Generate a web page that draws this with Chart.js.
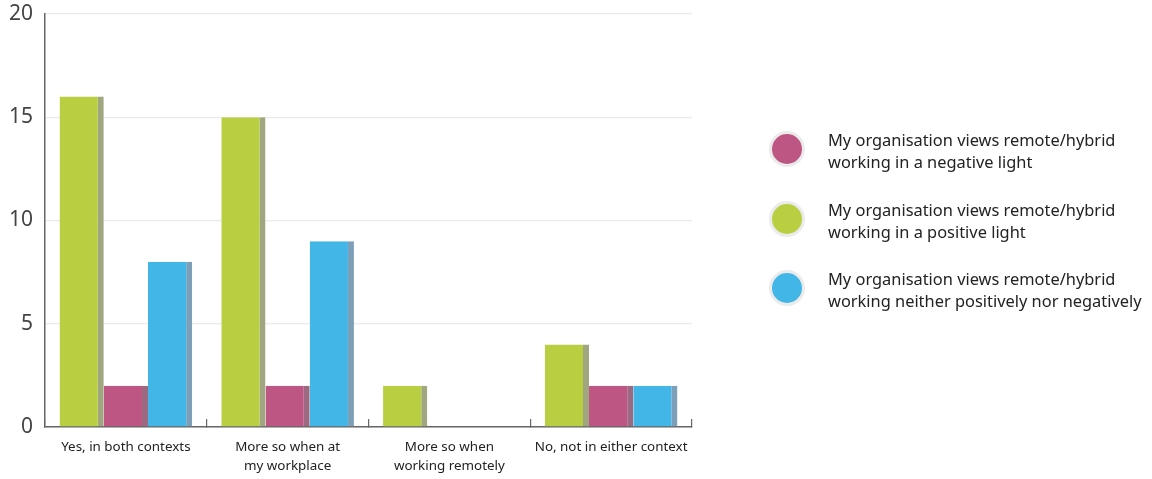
<!DOCTYPE html>
<html>
<head>
<meta charset="utf-8">
<script src="https://cdn.jsdelivr.net/npm/chart.js@4/dist/chart.umd.min.js"></script>
<style>
  html, body { margin: 0; padding: 0; background: #fff; }
  #wrap { position: relative; width: 1152px; height: 479px; }
  #legend { position: absolute; left: 769px; top: 0; font-family: "Noto Sans", sans-serif; font-size: 16.4px; color: #222; }
  .item { position: absolute; left: 0; width: 380px; }
  .dot { position: absolute; left: 0; width: 30px; height: 30px; border-radius: 50%; border: 3px solid #ebebeb; }
  .txt { position: absolute; left: 59px; line-height: 21.5px; white-space: nowrap; }
</style>
</head>
<body>
<div id="wrap">
  <canvas id="c"></canvas>
  <div id="legend"></div>
</div>
<script>
const categories = [["Yes, in both contexts"], ["More so when at", "my workplace"], ["More so when", "working remotely"], ["No, not in either context"]];
const positive = [16, 15, 2, 4];
const negative = [2, 2, 0, 2];
const neither = [8, 9, 0, 2];
const yTicks = [0, 5, 10, 15, 20];
const seriesNames = {
  negative: ["My organisation views remote/hybrid", "working in a negative light"],
  positive: ["My organisation views remote/hybrid", "working in a positive light"],
  neither: ["My organisation views remote/hybrid", "working neither positively nor negatively"]
};
const colors = { positive: "#b9cf41", negative: "#bd5682", neither: "#42b6e7" };
const shades = { positive: "#a0a67f", negative: "#9c6a80", neither: "#7d9fb8" };

function ds(key, data) {
  return {
    label: seriesNames[key].join(" "),
    data: data,
    backgroundColor: colors[key],
    borderColor: shades[key],
    borderWidth: { top: 0, left: 0, bottom: 0, right: 6 },
    borderSkipped: false,
    barPercentage: 1.0,
    categoryPercentage: 0.82
  };
}

new Chart(document.getElementById("c"), {
  type: "bar",
  data: {
    labels: categories,
    datasets: [ds("positive", positive), ds("negative", negative), ds("neither", neither)]
  },
  options: {
    responsive: true,
    maintainAspectRatio: false,
    animation: false,
    layout: { padding: { left: 0, right: 460, top: 14, bottom: 0 } },
    plugins: { legend: { display: false }, tooltip: { enabled: false } },
    scales: {
      y: {
        min: 0, max: 20,
        afterBuildTicks: (s) => { s.ticks = yTicks.map(v => ({ value: v })); },
        afterFit: (s) => { s.width = 45; s.paddingTop = 0; s.paddingBottom = 0; },
        border: { display: true, color: "#666", width: 1.5 },
        grid: { color: "#ebebeb", lineWidth: 1.2, drawTicks: false },
        ticks: { padding: 12, color: "#444", font: { family: "Noto Sans", size: 21 } }
      },
      x: {
        afterFit: (s) => { s.height = 52; },
        border: { display: true, color: "#666", width: 1.5 },
        grid: { offset: true, drawOnChartArea: false, drawTicks: true, tickLength: -8, color: "#666", lineWidth: 1.2 },
        ticks: { padding: 19, color: "#222", maxRotation: 0, font: { family: "Noto Sans", size: 13.4, lineHeight: 1.42 } }
      }
    }
  }
});

const legendOrder = ["negative", "positive", "neither"];
const legendY = [149, 219, 288];
const lg = document.getElementById("legend");
legendOrder.forEach((k, i) => {
  const it = document.createElement("div");
  it.className = "item";
  it.style.top = (legendY[i]) + "px";
  const d = document.createElement("div");
  d.className = "dot";
  d.style.background = colors[k];
  d.style.top = "-18px";
  const t = document.createElement("div");
  t.className = "txt";
  t.style.top = "-20px";
  t.innerHTML = seriesNames[k].join("<br>");
  it.appendChild(d); it.appendChild(t);
  lg.appendChild(it);
});
</script>
</body>
</html>
